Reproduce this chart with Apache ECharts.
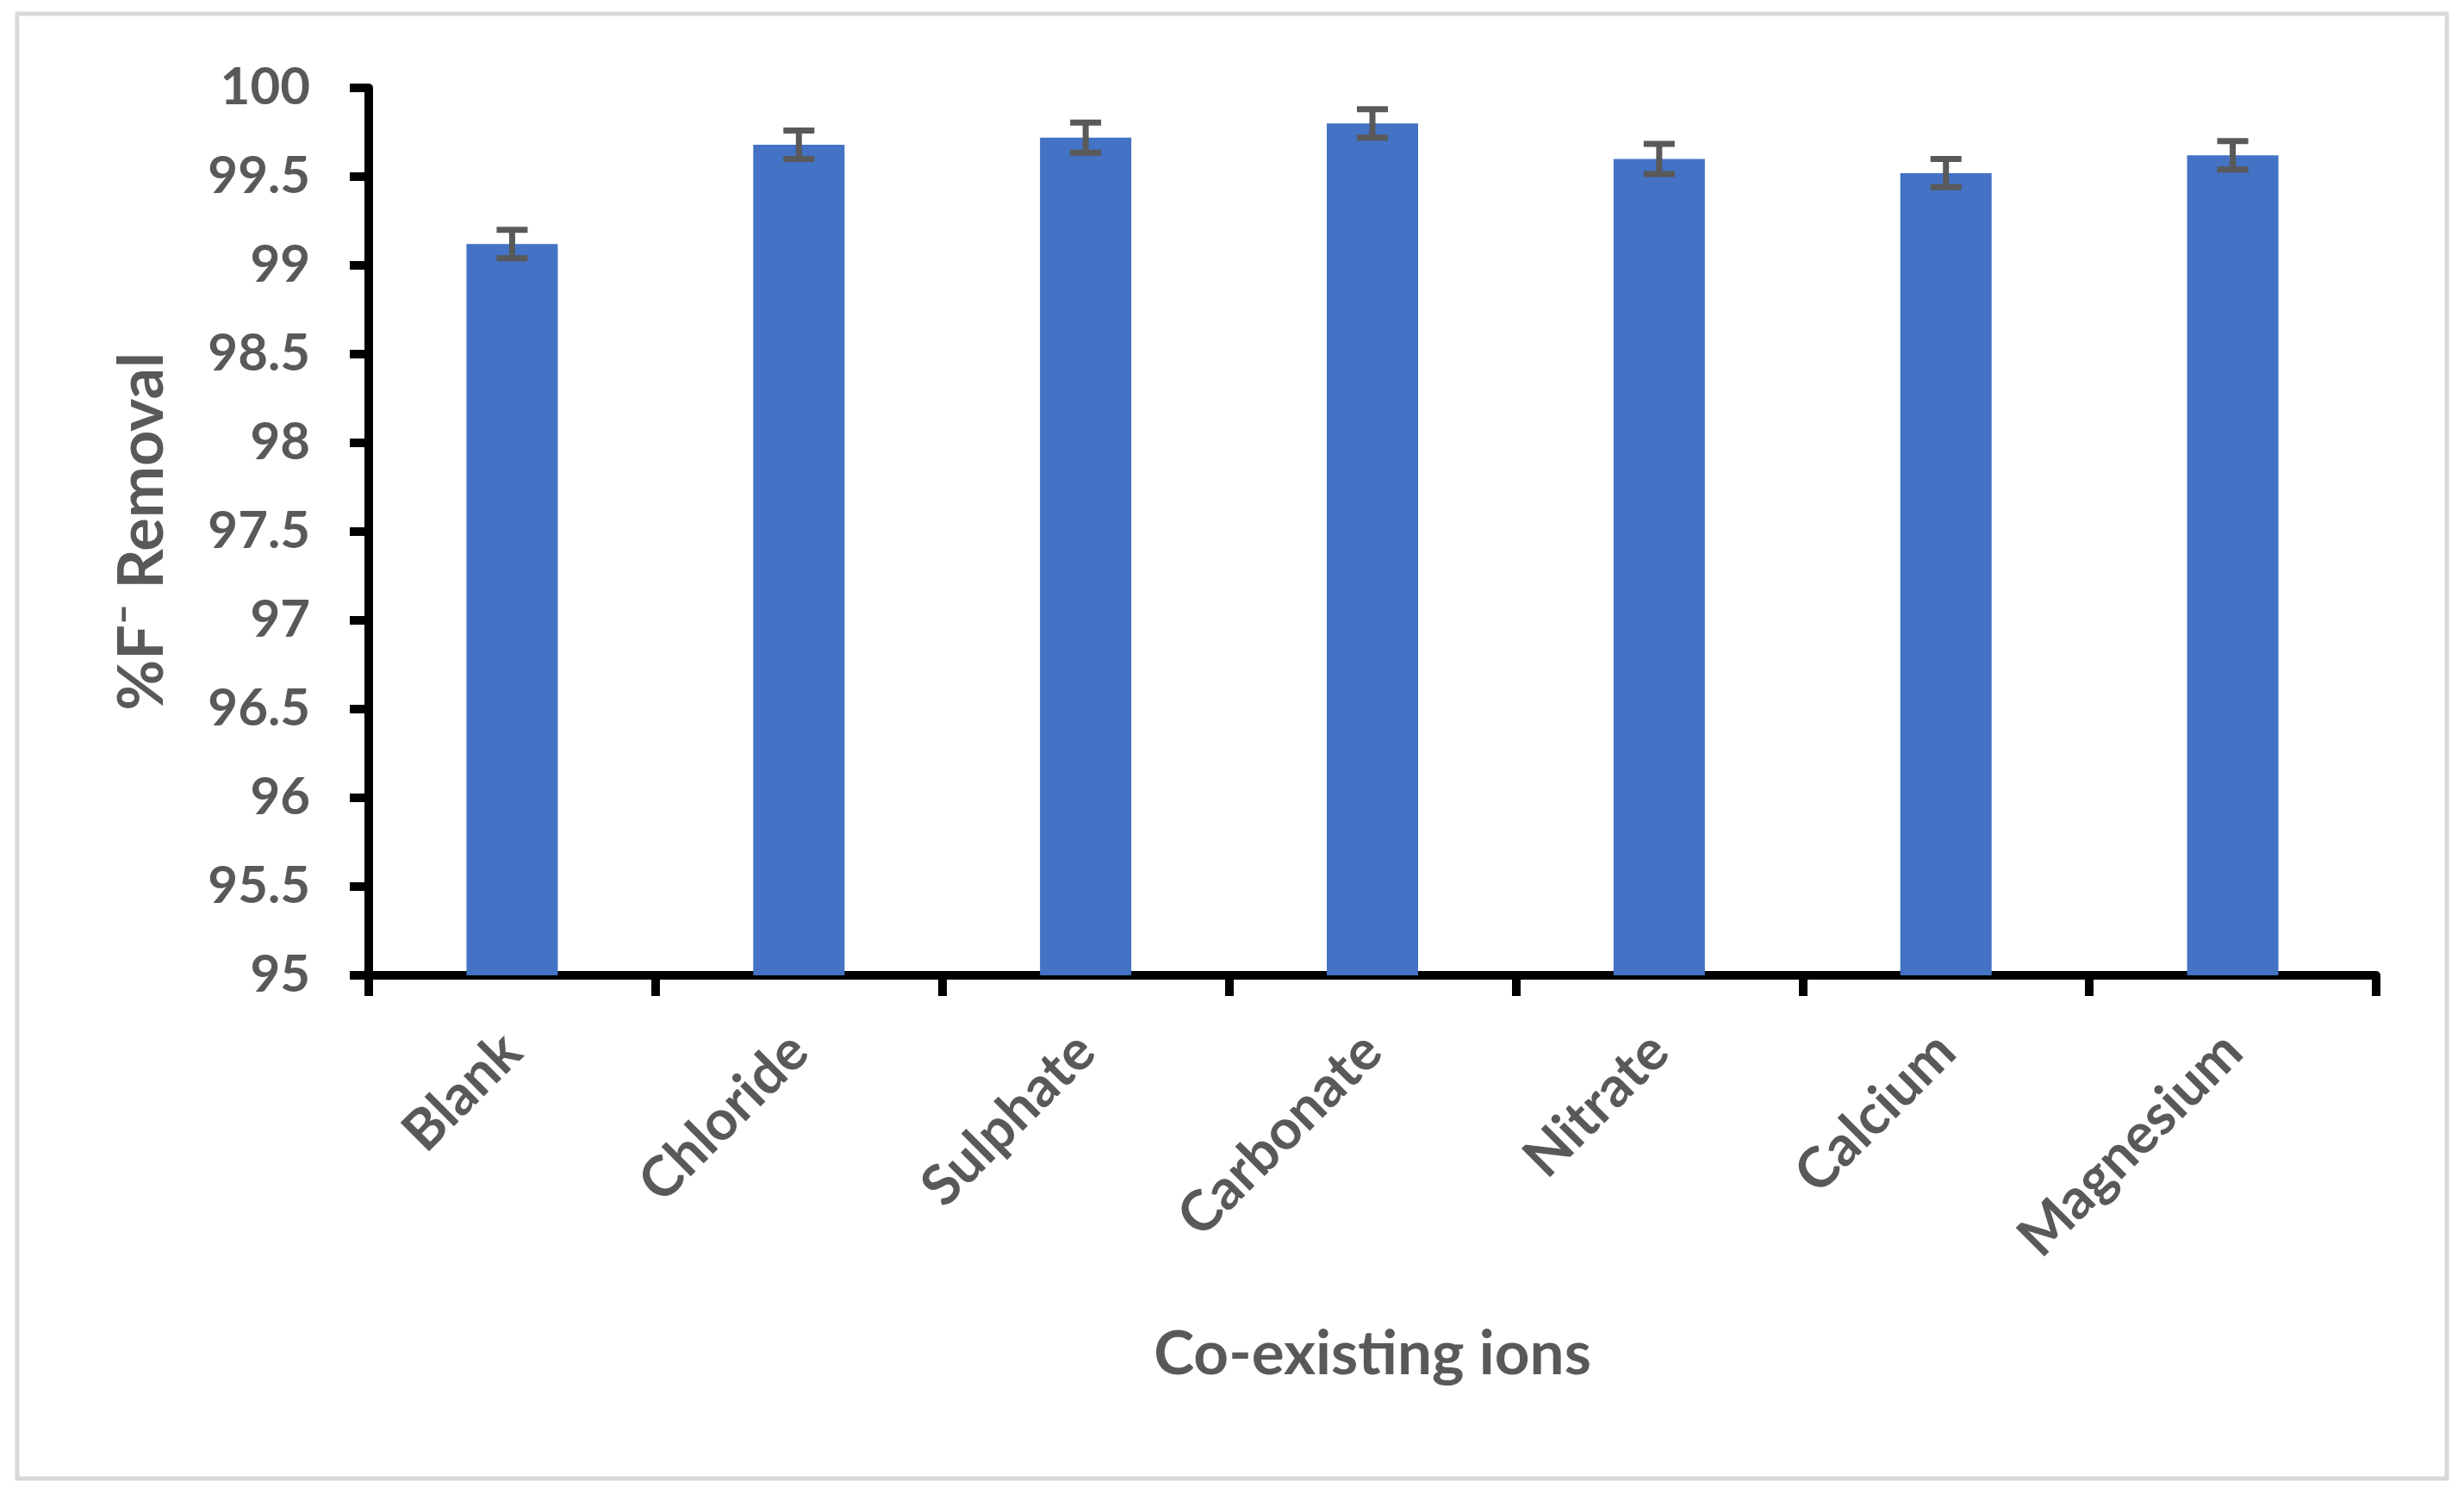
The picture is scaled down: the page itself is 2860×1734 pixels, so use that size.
<!DOCTYPE html>
<html>
<head>
<meta charset="utf-8">
<script src="https://cdn.jsdelivr.net/npm/echarts@6/dist/echarts.min.js"></script>
<style>
  html, body { margin: 0; padding: 0; background: #fff; }
  #chart { width: 2860px; height: 1734px; }
</style>
</head>
<body>
<div id="chart"></div>
<script>
const categories = ['Blank', 'Chloride', 'Sulphate', 'Carbonate', 'Nitrate', 'Calcium', 'Magnesium'];
const removal = [99.12, 99.68, 99.72, 99.80, 99.60, 99.52, 99.62];
const errors = [0.08, 0.08, 0.085, 0.08, 0.085, 0.08, 0.08];
const yMin = 95, yMax = 100, yStep = 0.5;
const xTitle = 'Co-existing ions';
const yTitle = '%F\u207B Removal';

const FONT = 'Lato';
const GREY = '#595959';

const errData = categories.map((c, i) => [i, removal[i] - errors[i], removal[i] + errors[i]]);

const chart = echarts.init(document.getElementById('chart'), null, { renderer: 'canvas' });
chart.setOption({
  backgroundColor: '#ffffff',
  animation: false,
  graphic: [{
    type: 'rect',
    shape: { x: 20, y: 16, width: 2820, height: 1700 },
    style: { fill: 'none', stroke: '#d9d9d9', lineWidth: 5 },
    silent: true
  }],
  grid: { left: 428, right: 102, top: 102, bottom: 602, containLabel: false },
  xAxis: {
    type: 'category',
    data: categories,
    name: xTitle,
    nameLocation: 'middle',
    nameGap: 405,
    nameTextStyle: { fontFamily: FONT, fontWeight: 'bold', fontSize: 71, color: GREY },
    axisLine: { lineStyle: { color: '#000', width: 10 } },
    axisTick: { show: true, length: 24, lineStyle: { color: '#000', width: 10 } },
    axisLabel: { rotate: 45, margin: 78, fontFamily: FONT, fontWeight: 'bold', fontSize: 65, color: GREY }
  },
  yAxis: {
    type: 'value',
    min: yMin, max: yMax, interval: yStep,
    name: yTitle,
    nameLocation: 'middle',
    nameRotate: 90,
    nameGap: 226,
    nameTextStyle: { fontFamily: FONT, fontWeight: 'bold', fontSize: 72, color: GREY },
    splitLine: { show: false },
    axisLine: { show: true, lineStyle: { color: '#000', width: 10 } },
    axisTick: { show: true, length: 22, lineStyle: { color: '#000', width: 10 } },
    axisLabel: { margin: 68, fontFamily: FONT, fontWeight: 'bold', fontSize: 60, color: GREY }
  },
  series: [{
    type: 'bar',
    data: removal,
    barWidth: 106,
    itemStyle: { color: '#4472C4' },
    z: 2
  }, {
    type: 'custom',
    data: errData,
    z: 5,
    renderItem: function (params, api) {
      const x = api.value(0);
      const lo = api.coord([x, api.value(1)]);
      const hi = api.coord([x, api.value(2)]);
      const hw = 18;
      const st = { stroke: '#595959', lineWidth: 7 };
      return {
        type: 'group',
        children: [
          { type: 'line', shape: { x1: hi[0], y1: hi[1], x2: lo[0], y2: lo[1] }, style: st },
          { type: 'line', shape: { x1: hi[0] - hw, y1: hi[1], x2: hi[0] + hw, y2: hi[1] }, style: st },
          { type: 'line', shape: { x1: lo[0] - hw, y1: lo[1], x2: lo[0] + hw, y2: lo[1] }, style: st }
        ]
      };
    }
  }]
});
</script>
</body>
</html>
